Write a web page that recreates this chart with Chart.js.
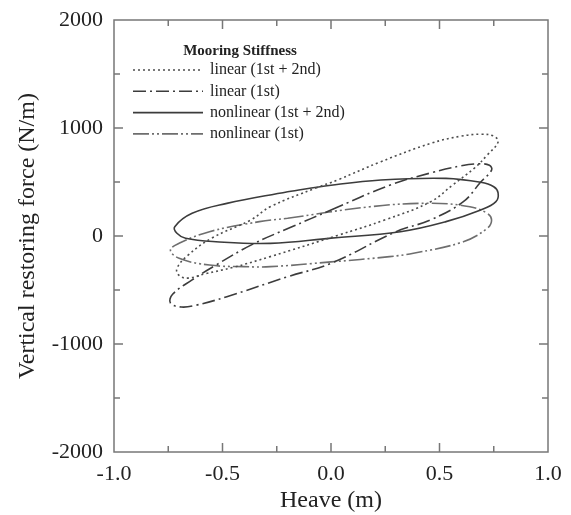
<!DOCTYPE html>
<html>
<head>
<meta charset="utf-8">
<script src="https://cdn.jsdelivr.net/npm/chart.js@4/dist/chart.umd.min.js"></script>
<style>
  html, body { margin: 0; padding: 0; background: #fff; }
  #wrap { width: 571px; height: 515px; }
</style>
</head>
<body>
<div id="wrap"><canvas id="chart"></canvas></div>
<script>
// Series labels (legend order)
const seriesLabels = ['linear (1st + 2nd)', 'linear (1st)', 'nonlinear (1st + 2nd)', 'nonlinear (1st)'];

// linear (1st + 2nd) loop
const linBothX = [-0.07, 0.03, 0.23, 0.46, 0.60, 0.69, 0.75, 0.77, 0.72, 0.66, 0.56, 0.46, 0.25, 0.03, -0.28, -0.45, -0.58, -0.66, -0.70, -0.71, -0.66, -0.55, -0.37, -0.28, -0.07];
const linBothY = [445, 519, 688, 858, 925, 942, 925, 870, 750, 627, 472, 318, 150, 5, -191, -290, -350, -390, -365, -300, -180, -20, 148, 271, 445];

// linear (1st) loop
const lin1X = [0.00, 0.27, 0.47, 0.60, 0.68, 0.73, 0.74, 0.69, 0.61, 0.46, 0.30, 0.00, -0.20, -0.48, -0.62, -0.69, -0.74, -0.73, -0.64, -0.53, -0.36, -0.18, 0.00];
const lin1Y = [241, 470, 590, 650, 668, 655, 610, 500, 318, 150, 40, -253, -377, -562, -640, -658, -620, -540, -407, -269, -75, 85, 241];

// nonlinear (1st + 2nd) loop
const nonBothX = [-0.20, 0.00, 0.23, 0.53, 0.69, 0.75, 0.77, 0.76, 0.69, 0.53, 0.32, 0.00, -0.28, -0.53, -0.67, -0.71, -0.72, -0.64, -0.48, -0.20];
const nonBothY = [410, 470, 519, 534, 497, 456, 400, 318, 241, 133, 40, -20, -68, -53, -21, 25, 86, 210, 302, 410];

// nonlinear (1st) loop
const non1X = [-0.20, 0.18, 0.46, 0.64, 0.72, 0.74, 0.72, 0.61, 0.38, 0.27, 0.00, -0.28, -0.40, -0.56, -0.70, -0.74, -0.70, -0.56, -0.33, -0.20];
const non1Y = [164, 271, 303, 271, 210, 148, 71, -53, -160, -191, -240, -284, -284, -269, -207, -130, -68, 40, 133, 164];

// axis ranges / ticks
const xMin = -1.0, xMax = 1.0, xStep = 0.5;
const yMin = -2000, yMax = 2000, yStep = 1000;

const serif = "'Liberation Serif', 'DejaVu Serif', serif";

function toPoints(xs, ys) {
    return xs.map((x, i) => ({ x: x, y: ys[i] }));
}

const styles = [
    { color: '#4d4d4d', dash: [2, 3] },
    { color: '#3c3c3c', dash: [13, 4, 2, 4] },
    { color: '#3c3c3c', dash: [] },
    { color: '#6e6e6e', dash: [16, 3, 2, 3, 2, 3] }
];

const seriesData = [
    toPoints(linBothX, linBothY),
    toPoints(lin1X, lin1Y),
    toPoints(nonBothX, nonBothY),
    toPoints(non1X, non1Y)
];

const datasets = seriesData.map((pts, i) => ({
    label: seriesLabels[i],
    data: pts,
    showLine: true,
    fill: false,
    tension: 0.4,
    pointRadius: 0,
    borderWidth: 1.6,
    borderColor: styles[i].color,
    borderDash: styles[i].dash
}));

// frame + inward ticks on all four sides
const framePlugin = {
    id: 'frame',
    afterDatasetsDraw(chart) {
        const { ctx, chartArea: a, scales } = chart;
        ctx.save();
        ctx.strokeStyle = '#777';
        ctx.lineWidth = 1.5;
        ctx.strokeRect(a.left, a.top, a.right - a.left, a.bottom - a.top);
        ctx.beginPath();
        for (let v = xMin + xStep / 2; v < xMax - 1e-9; v += xStep / 2) {
            const px = scales.x.getPixelForValue(v);
            const major = Math.abs(v / xStep - Math.round(v / xStep)) < 1e-6;
            const len = major ? 9 : 6;
            ctx.moveTo(px, a.bottom); ctx.lineTo(px, a.bottom - len);
            ctx.moveTo(px, a.top); ctx.lineTo(px, a.top + len);
        }
        for (let v = yMin + yStep / 2; v < yMax - 1e-9; v += yStep / 2) {
            const py = scales.y.getPixelForValue(v);
            const major = Math.abs(v / yStep - Math.round(v / yStep)) < 1e-6;
            const len = major ? 9 : 6;
            ctx.moveTo(a.left, py); ctx.lineTo(a.left + len, py);
            ctx.moveTo(a.right, py); ctx.lineTo(a.right - len, py);
        }
        ctx.stroke();
        ctx.restore();
    }
};

// legend drawn inside the plot area
const legendPlugin = {
    id: 'innerLegend',
    afterDraw(chart) {
        const ctx = chart.ctx;
        ctx.save();
        ctx.fillStyle = '#222';
        ctx.textBaseline = 'middle';
        ctx.font = "bold 15px " + serif;
        ctx.textAlign = 'center';
        ctx.fillText('Mooring Stiffness', 240, 51);
        ctx.font = "16px " + serif;
        ctx.textAlign = 'left';
        chart.data.datasets.forEach((ds, i) => {
            const y = 70 + i * 21.3;
            ctx.beginPath();
            ctx.strokeStyle = ds.borderColor;
            ctx.lineWidth = 1.6;
            ctx.setLineDash(ds.borderDash);
            ctx.moveTo(133, y);
            ctx.lineTo(203, y);
            ctx.stroke();
            ctx.setLineDash([]);
            ctx.fillText(ds.label, 210, y);
        });
        ctx.restore();
    }
};

new Chart(document.getElementById('chart'), {
    type: 'scatter',
    data: { datasets: datasets },
    options: {
        responsive: true,
        maintainAspectRatio: false,
        animation: false,
        layout: { padding: { top: 20, right: 23, left: 0, bottom: 0 } },
        plugins: {
            legend: { display: false },
            tooltip: { enabled: false }
        },
        scales: {
            x: {
                type: 'linear',
                min: xMin,
                max: xMax,
                grid: { display: false },
                border: { display: false },
                ticks: {
                    stepSize: xStep,
                    padding: 1,
                    color: '#222',
                    font: { family: serif, size: 22 },
                    callback: (v) => v.toFixed(1)
                },
                title: {
                    display: true,
                    text: 'Heave (m)',
                    color: '#222',
                    font: { family: serif, size: 24 },
                    padding: { top: 0, bottom: 0 }
                },
                afterFit: (s) => { s.height = 63; }
            },
            y: {
                type: 'linear',
                min: yMin,
                max: yMax,
                grid: { display: false },
                border: { display: false },
                ticks: {
                    stepSize: yStep,
                    padding: 3,
                    color: '#222',
                    font: { family: serif, size: 22 },
                    callback: (v) => String(v)
                },
                title: {
                    display: true,
                    text: 'Vertical restoring force (N/m)',
                    color: '#222',
                    font: { family: serif, size: 24 },
                    padding: { top: 13, bottom: 0 }
                },
                afterFit: (s) => { s.width = 114; }
            }
        }
    },
    plugins: [framePlugin, legendPlugin]
});
</script>
</body>
</html>
